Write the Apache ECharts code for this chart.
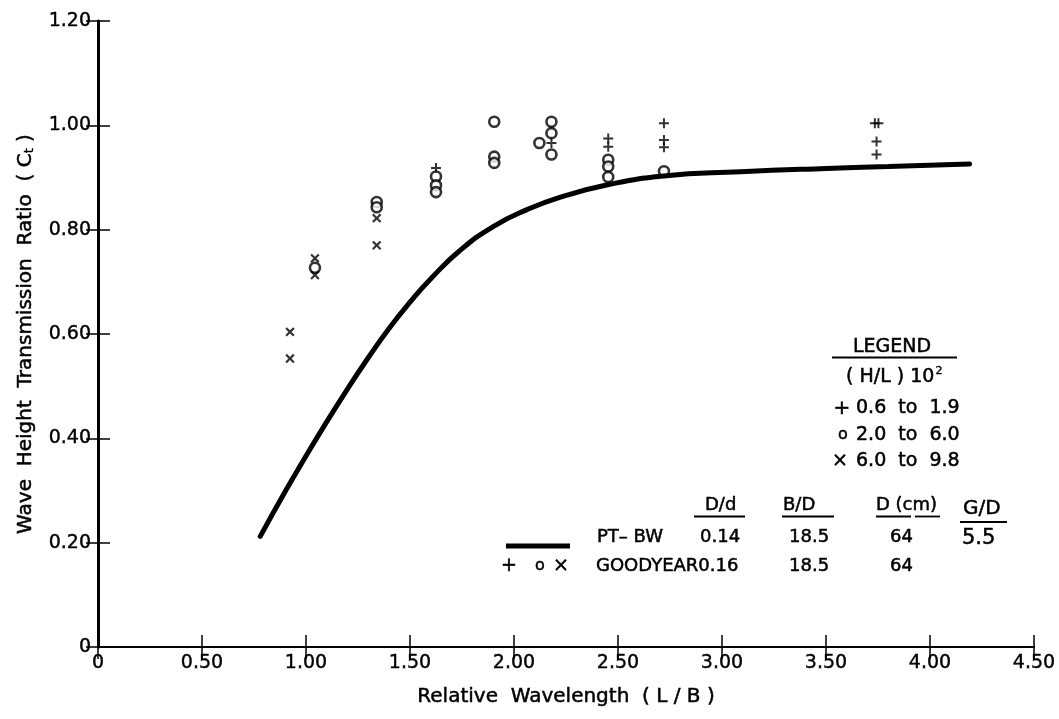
<!DOCTYPE html>
<html><head><meta charset="utf-8">
<script src="https://cdn.jsdelivr.net/npm/echarts@6/dist/echarts.min.js"></script>
<style>html,body{margin:0;padding:0;background:#fff}#c{width:1059px;height:719px}</style>
</head><body><div id="c"></div>
<script>
// PT-BW theory curve
const curveX = [0.78,0.90,1.00,1.10,1.20,1.30,1.40,1.50,1.60,1.74,1.90,2.06,2.22,2.45,2.72,3.09,3.47,3.80,4.19];
const curveY = [0.212,0.298,0.366,0.432,0.495,0.555,0.611,0.661,0.706,0.760,0.806,0.838,0.862,0.886,0.903,0.911,0.917,0.921,0.926];
// Goodyear data, (H/L)10^2 = 0.6 to 1.9  (+)
const plusX = [1.625,2.18,2.453,2.453,2.721,2.721,2.721,3.735,3.752,3.743,3.743];
const plusY = [0.918,0.966,0.975,0.959,1.004,0.972,0.958,1.004,1.004,0.969,0.944];
// 2.0 to 6.0 (o)
const circX = [1.043,1.34,1.34,1.625,1.625,1.625,1.905,1.905,1.905,2.122,2.18,2.18,2.18,2.453,2.453,2.453,2.721];
const circY = [0.727,0.853,0.843,0.902,0.885,0.872,1.007,0.940,0.928,0.966,1.007,0.985,0.944,0.934,0.921,0.901,0.912];
// 6.0 to 9.8 (x)
const crossX = [0.923,0.923,1.043,1.043,1.34,1.34];
const crossY = [0.604,0.553,0.745,0.713,0.822,0.770];

const zip = (a,b) => a.map((v,i)=>[v,b[i]]);
const FONT = 'DejaVu Sans';
const PLUS = 'path://M4,0H6V4H10V6H6V10H4V6H0V4H4Z';

const chart = echarts.init(document.getElementById('c'));
const axisCommon = {
  type:'value', min:0,
  axisTick:{inside:true, length:12, lineStyle:{color:'#000', width:1.5}},
  splitLine:{show:false}
};
const lbl = {color:'#000', fontFamily:FONT, fontSize:19, textBorderColor:'#000', textBorderWidth:0.4};
const txt = (x,y,text,size,align,rich) => ({type:'text', x:x, y:y,
  style:{text:text, fill:'#000', stroke:'#000', lineWidth:0.5,
    font:(size||18)+'px '+FONT, align:align||'left', verticalAlign:'middle',
    textAlign:align||'left', textVerticalAlign:'middle', rich:rich}});
const hline = (x1,x2,y,w) => ({type:'line', shape:{x1:x1,y1:y,x2:x2,y2:y}, style:{stroke:'#000', lineWidth:w||1.8}});

chart.setOption({
  animation:false,
  backgroundColor:'#fff',
  grid:{left:98, right:25, top:21, bottom:72},
  xAxis:[
    Object.assign({}, axisCommon, {max:4.5, interval:0.5, position:'bottom',
      axisLine:{lineStyle:{color:'#000', width:2}},
      axisLabel:Object.assign({}, lbl, {margin:7, formatter:v=> v===0?'0':v.toFixed(2)}),
      name:'Relative  Wavelength  ( L / B )', nameLocation:'middle', nameGap:40,
      nameTextStyle:{color:'#000', fontFamily:FONT, fontSize:20, textBorderColor:'#000', textBorderWidth:0.5}}),
    Object.assign({}, axisCommon, {max:4.5, interval:0.5, position:'top',
      axisLine:{lineStyle:{color:'#000', width:2}}, axisLabel:{show:false}})
  ],
  yAxis:[
    Object.assign({}, axisCommon, {max:1.2, interval:0.2, position:'left',
      axisLine:{lineStyle:{color:'#000', width:3}},
      axisLabel:Object.assign({}, lbl, {margin:7, formatter:v=> v===0?'0':v.toFixed(2)}),
      name:'Wave  Height  Transmission  Ratio  ( C{sub|t} )', nameLocation:'middle', nameGap:62,
      nameTextStyle:{color:'#000', fontFamily:FONT, fontSize:20, textBorderColor:'#000', textBorderWidth:0.5,
        rich:{sub:{fontSize:13, fontFamily:FONT, color:'#000', textBorderColor:'#000', textBorderWidth:0.4, verticalAlign:'bottom', padding:[8,0,0,0]}}}}),
    Object.assign({}, axisCommon, {max:1.2, interval:0.2, position:'right',
      axisLine:{lineStyle:{color:'#000', width:2.5}}, axisLabel:{show:false}})
  ],
  series:[
    {type:'line', data:zip(curveX,curveY), smooth:0.5, showSymbol:false,
      lineStyle:{color:'#000', width:5, cap:'round'}},
    {type:'scatter', data:zip(plusX,plusY), symbol:PLUS, symbolSize:10,
      itemStyle:{color:'#000'}},
    {type:'scatter', data:zip(circX,circY), symbol:'circle', symbolSize:10,
      itemStyle:{color:'#fff', borderColor:'#000', borderWidth:2.6}},
    {type:'scatter', data:zip(crossX,crossY), symbol:PLUS, symbolSize:11, symbolRotate:45,
      itemStyle:{color:'#000'}}
  ],
  graphic:[
    // legend block
    txt(853,347.5,'LEGEND',19),
    hline(832,957,357.5,2),
    txt(846,377.5,'( H/L ) 10{sup|2}',19,'left',
      {sup:{fontSize:11, fontFamily:FONT, fill:'#000', stroke:'#000', lineWidth:0.4, verticalAlign:'top', padding:[0,0,12,1]}}),
    txt(842,408.5,'+',20,'center'), txt(856,408.5,'0.6  to  1.9',19),
    txt(843,435,'o',16,'center'), txt(856,435,'2.0  to  6.0',19),
    txt(840,461.5,'\u00d7',19,'center'), txt(856,461.5,'6.0  to  9.8',19),
    // table header
    txt(705,505,'D/d',18), hline(694,745,516.5),
    txt(783,505,'B/D',18), hline(782,834,516.5),
    txt(876,505,'D (cm)',18), hline(876,911,516.5), hline(915,940,516.5),
    txt(963,509,'G/D',20), hline(960,1007,522),
    // row 1
    hline(506,570,546,5),
    txt(597,537.5,'PT\u2013 BW',18),
    txt(700,537.5,'0.14',18),
    txt(789,537.5,'18.5',18),
    txt(890,537.5,'64',18),
    txt(962,539,'5.5',21),
    // row 2
    txt(509,566.5,'+',19,'center'), txt(540,566,'o',16,'center'), txt(561,566,'\u00d7',19,'center'),
    txt(596,566,'GOODYEAR0.16',18),
    txt(789,566,'18.5',18),
    txt(890,566,'64',18)
  ]
});
</script></body></html>
